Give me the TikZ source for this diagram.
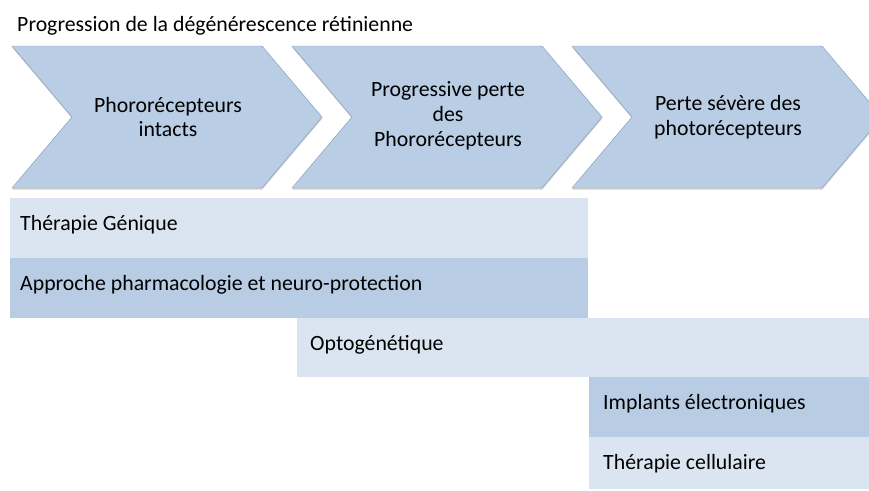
\documentclass[tikz,border=0pt]{standalone}
\usepackage{fontspec}
\setmainfont{Carlito}
\usepackage{tikz}
\usetikzlibrary{shadows,positioning}
\definecolor{chevronblue}{RGB}{185,205,229}
\definecolor{chevronline}{RGB}{135,158,190}
\definecolor{barlight}{RGB}{219,229,241}
\definecolor{bardark}{RGB}{184,204,228}
\tikzset{
	chevron/.style = {
			fill      = chevronblue,
			draw      = chevronline,
			line width = 0.4pt,
			drop shadow = {shadow xshift=0.2pt, shadow yshift=-1.4pt, opacity=0.35},
		},
	steplabel/.style = {
			align = center,
			font  = \fontsize{18.6}{21.3}\selectfont,
		},
	barlabel/.style = {
			anchor    = base west,
			inner sep = 0pt,
			font      = \fontsize{18.6}{21.3}\selectfont,
		},
}

\begin{document}
\begin{tikzpicture}[x=0.03cm,y=-0.03cm]
	\useasboundingbox (0,0) rectangle (869,490);
	\clip (0,0) rectangle (869,490);

	% Title
	\node[barlabel] (title) at (17,31.5) {Progression de la dégénérescence rétinienne};

	% Chevrons of the stages
	\foreach \x in {12,292,572}
		{ \draw[chevron] (\x,46) -- (\x+250,46) -- (\x+310,117) -- (\x+250,188)
			-- (\x,188) -- (\x+60,117) -- cycle;
		}
	\node[steplabel] (stage1) at (168,117) {Phororécepteurs\\intacts};
	\node[steplabel] (stage2) at (448,116) {Progressive perte\\des\\Phororécepteurs};
	\node[steplabel] (stage3) at (728,117) {Perte sévère des\\photorécepteurs};

	% Therapy bars
	\fill[barlight] (10,198)  rectangle (588,258);
	\fill[bardark]  (10,258)  rectangle (588,318);
	\fill[barlight] (297,318) rectangle (869,377);
	\fill[bardark]  (589,377) rectangle (869,437);
	\fill[barlight] (589,437) rectangle (869,489);

	\node[barlabel] (genique)   at (20,230)  {Thérapie Génique};
	\node[barlabel] (pharmaco)  at (20,290)  {Approche pharmacologie et neuro-protection};
	\node[barlabel] (optogen)   at (310,350) {Optogénétique};
	\node[barlabel] (implants)  at (603,409) {Implants électroniques};
	\node[barlabel] (cellulaire) at (603,469) {Thérapie cellulaire};
\end{tikzpicture}
\end{document}
